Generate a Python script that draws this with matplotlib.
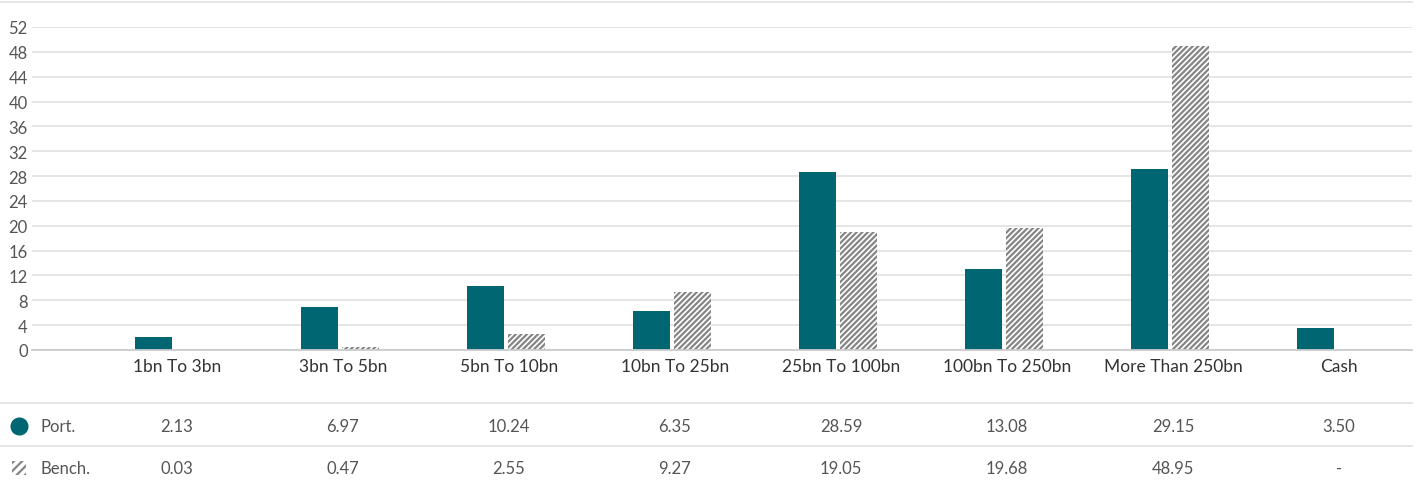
import numpy as np
import matplotlib.pyplot as plt
import matplotlib.transforms as mtransforms
from matplotlib.patches import Rectangle
from matplotlib.lines import Line2D

# Data
categories = ['1bn To 3bn', '3bn To 5bn', '5bn To 10bn', '10bn To 25bn',
              '25bn To 100bn', '100bn To 250bn', 'More Than 250bn', 'Cash']
port = [2.13, 6.97, 10.24, 6.35, 28.59, 13.08, 29.15, 3.50]
bench = [0.03, 0.47, 2.55, 9.27, 19.05, 19.68, 48.95, np.nan]
yticks = list(range(0, 53, 4))

teal = '#006672'
grey_txt = '#555555'
hatch_col = '#858585'
grid_col = '#e3e3e3'

plt.rcParams['font.family'] = ['Lato', 'DejaVu Sans']
plt.rcParams['hatch.linewidth'] = 1.6

W, H = 1419, 489
fig = plt.figure(figsize=(W / 100, H / 100), dpi=100)

def fx(px):
    return px / W

def fy(py):
    return 1 - py / H

ax = fig.add_axes([fx(32), fy(351), fx(1412) - fx(32), fy(28) - fy(351)])
x = np.arange(len(categories))
bw = 0.223
ax.bar(x - 0.14, port, width=bw, color=teal, zorder=3)
ax.bar(x + 0.105, np.nan_to_num(bench), width=bw, color='white', edgecolor=hatch_col,
       hatch='//////', linewidth=0, zorder=3)

ax.set_xlim(-0.873, 7.44)
ax.set_ylim(0, 52)
ax.set_yticks(yticks)
ax.set_yticklabels([str(t) for t in yticks], fontsize=12, color=grey_txt)
ax.set_xticks(x)
ax.set_xticklabels(categories, fontsize=12.5, color='#333333')
ax.tick_params(axis='both', length=0, pad=6)
ax.tick_params(axis='y', pad=3)
ax.grid(axis='y', color=grid_col, linewidth=1.3, zorder=0)
for s in ['top', 'right', 'left']:
    ax.spines[s].set_visible(False)
ax.spines['bottom'].set_color('#cccccc')
ax.spines['bottom'].set_linewidth(1.3)
ax.spines['bottom'].set_zorder(4)

# top border and table row separators
for py in [3, 404, 447]:
    fig.add_artist(Line2D([0, fx(1412)], [fy(py), fy(py)], color=grid_col, linewidth=1.3))

# table rows
trans = mtransforms.blended_transform_factory(ax.transData, fig.transFigure)
row_y = [fy(427), fy(469)]
for i in range(len(categories)):
    fig.text(x[i], row_y[0], f'{port[i]:.2f}', transform=trans, ha='center', va='center',
             fontsize=12, color=grey_txt)
    b = '-' if np.isnan(bench[i]) else f'{bench[i]:.2f}'
    fig.text(x[i], row_y[1], b, transform=trans, ha='center', va='center',
             fontsize=12, color=grey_txt)

fig.text(fx(40), row_y[0], 'Port.', ha='left', va='center', fontsize=12, color=grey_txt)
fig.text(fx(40), row_y[1], 'Bench.', ha='left', va='center', fontsize=12, color=grey_txt)

# legend markers
fig.add_artist(Line2D([fx(19)], [row_y[0]], marker='o', markersize=12, color=teal,
                      linestyle='none'))
mk = Rectangle((fx(12), fy(476)), fx(14), fy(462) - fy(476), facecolor='white',
               edgecolor=hatch_col, hatch='////', linewidth=0, transform=fig.transFigure)
fig.add_artist(mk)

fig.savefig('out.png', dpi=100)
